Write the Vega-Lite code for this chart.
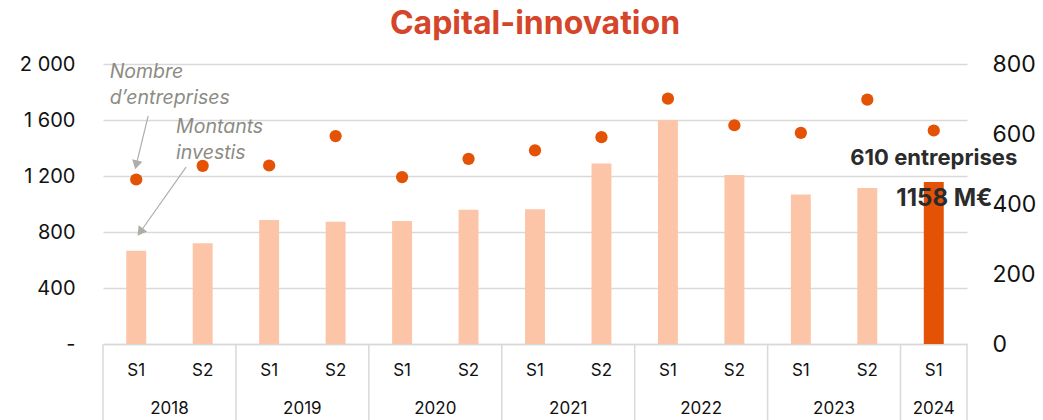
{
  "$schema": "https://vega.github.io/schema/vega-lite/v6.json",
  "autosize": {"type": "none"},
  "width": 864,
  "height": 280,
  "padding": {"left": 103, "top": 64, "right": 76, "bottom": 76},
  "config": {"view": {"stroke": null}, "font": "Inter"},
  "title": {"text": "Capital-innovation", "fontSize": 32, "font": "Inter", "fontWeight": "bold", "color": "#D4452A", "anchor": "middle", "offset": 12},
  "data": {"values": [
    {"period": "2018-S1", "year": "2018", "sem": "S1", "montant": 666, "nb": 470},
    {"period": "2018-S2", "year": "2018", "sem": "S2", "montant": 719, "nb": 509},
    {"period": "2019-S1", "year": "2019", "sem": "S1", "montant": 886, "nb": 510},
    {"period": "2019-S2", "year": "2019", "sem": "S2", "montant": 874, "nb": 594},
    {"period": "2020-S1", "year": "2020", "sem": "S1", "montant": 879, "nb": 477},
    {"period": "2020-S2", "year": "2020", "sem": "S2", "montant": 959, "nb": 529},
    {"period": "2021-S1", "year": "2021", "sem": "S1", "montant": 962, "nb": 553},
    {"period": "2021-S2", "year": "2021", "sem": "S2", "montant": 1290, "nb": 591},
    {"period": "2022-S1", "year": "2022", "sem": "S1", "montant": 1598, "nb": 701},
    {"period": "2022-S2", "year": "2022", "sem": "S2", "montant": 1207, "nb": 625},
    {"period": "2023-S1", "year": "2023", "sem": "S1", "montant": 1067, "nb": 603},
    {"period": "2023-S2", "year": "2023", "sem": "S2", "montant": 1114, "nb": 698},
    {"period": "2024-S1", "year": "2024", "sem": "S1", "montant": 1158, "nb": 610}
  ]},
  "layer": [
    {
      "layer": [
        {
          "mark": {"type": "bar", "width": {"band": 0.3}},
          "encoding": {
            "x": {"field": "period", "type": "nominal", "title": null,
              "scale": {"paddingInner": 0, "paddingOuter": 0},
              "axis": {"labelExpr": "split(datum.value, '-')[1]", "labelAngle": 0, "labelFontSize": 17, "labelColor": "#111", "labelPadding": 18, "ticks": false, "domain": true, "domainColor": "#d9d9d9", "domainWidth": 1.5, "grid": false}},
            "y": {"field": "montant", "type": "quantitative", "title": null,
              "scale": {"domain": [0, 2000], "nice": false},
              "axis": {"orient": "left", "values": [0, 400, 800, 1200, 1600, 2000], "labelExpr": "datum.value === 0 ? '-' : replace(format(datum.value, ','), ',', ' ')", "grid": true, "gridColor": "#d9d9d9", "gridWidth": 1.5, "domain": false, "ticks": false, "labelPadding": 28, "labelFontSize": 20, "labelColor": "#111"}},
            "color": {"condition": {"test": "datum.period === '2024-S1'", "value": "#E35205"}, "value": "#FDC5A7"}
          }
        },
        {
          "transform": [{"filter": "datum.sem === 'S1'"}],
          "mark": {"type": "rule", "color": "#d9d9d9", "strokeWidth": 1.5},
          "encoding": {
            "x": {"field": "period", "type": "nominal", "bandPosition": 0, "title": null},
            "y": {"datum": 0},
            "y2": {"datum": -545}
          }
        },
        {
          "transform": [{"filter": "datum.period === '2024-S1'"}],
          "mark": {"type": "rule", "color": "#d9d9d9", "strokeWidth": 1.5},
          "encoding": {
            "x": {"field": "period", "type": "nominal", "bandPosition": 1, "title": null},
            "y": {"datum": 0},
            "y2": {"datum": -545}
          }
        },
        {
          "transform": [{"filter": "datum.sem === 'S1' && datum.year !== '2024'"}],
          "mark": {"type": "text", "fontSize": 17, "color": "#111", "baseline": "middle", "align": "center"},
          "encoding": {
            "x": {"field": "period", "type": "nominal", "bandPosition": 1, "title": null},
            "y": {"datum": -464},
            "text": {"field": "year"}
          }
        },
        {
          "transform": [{"filter": "datum.year === '2024'"}],
          "mark": {"type": "text", "fontSize": 17, "color": "#111", "baseline": "middle", "align": "center"},
          "encoding": {
            "x": {"field": "period", "type": "nominal", "bandPosition": 0.5, "title": null},
            "y": {"datum": -464},
            "text": {"field": "year"}
          }
        },
        {
          "data": {"values": [
            {"label": "Nombre", "period": "2018-S1", "v": 1943},
            {"label": "d’entreprises", "period": "2018-S1", "v": 1757},
            {"label": "Montants", "period": "2018-S2", "v": 1550},
            {"label": "investis", "period": "2018-S2", "v": 1364}
          ]},
          "mark": {"type": "text", "fontSize": 19.5, "fontStyle": "italic", "color": "#8c8c84", "align": "left", "baseline": "middle"},
          "encoding": {
            "x": {"field": "period", "type": "nominal", "bandPosition": 0.1, "title": null},
            "y": {"field": "v", "type": "quantitative", "title": null},
            "text": {"field": "label"}
          }
        },
        {
          "data": {"values": [{}]},
          "mark": {"type": "rule", "color": "#aeaea8", "strokeWidth": 1.2},
          "encoding": {
            "x": {"datum": "2018-S1", "bandPosition": 0.68},
            "x2": {"datum": "2018-S1", "bandPosition": 0.5},
            "y": {"datum": 1629},
            "y2": {"datum": 1279}
          }
        },
        {
          "data": {"values": [{}]},
          "mark": {"type": "rule", "color": "#aeaea8", "strokeWidth": 1.2},
          "encoding": {
            "x": {"datum": "2018-S2", "bandPosition": 0.25},
            "x2": {"datum": "2018-S1", "bandPosition": 0.56},
            "y": {"datum": 1264},
            "y2": {"datum": 800}
          }
        },
        {
          "data": {"values": [{}]},
          "mark": {"type": "point", "shape": "triangle-down", "filled": true, "color": "#aeaea8", "opacity": 1, "size": 110, "angle": 13},
          "encoding": {
            "x": {"datum": "2018-S1", "bandPosition": 0.5},
            "y": {"datum": 1279}
          }
        },
        {
          "data": {"values": [{}]},
          "mark": {"type": "point", "shape": "triangle-down", "filled": true, "color": "#aeaea8", "opacity": 1, "size": 110, "angle": 36},
          "encoding": {
            "x": {"datum": "2018-S1", "bandPosition": 0.56},
            "y": {"datum": 800}
          }
        },
        {
          "data": {"values": [{}]},
          "mark": {"type": "text", "text": "610 entreprises", "fontSize": 22, "fontWeight": "bold", "color": "#2b2b2b", "align": "center", "baseline": "middle"},
          "encoding": {
            "x": {"datum": "2024-S1", "bandPosition": 0.5},
            "y": {"datum": 1326}
          }
        },
        {
          "data": {"values": [{}]},
          "mark": {"type": "text", "text": "1158 M€", "fontSize": 24, "fontWeight": "bold", "color": "#2b2b2b", "align": "center", "baseline": "middle"},
          "encoding": {
            "x": {"datum": "2024-S1", "bandPosition": 0.66},
            "y": {"datum": 1034}
          }
        }
      ]
    },
    {
      "mark": {"type": "circle", "size": 150, "color": "#E35205", "opacity": 1},
      "encoding": {
        "x": {"field": "period", "type": "nominal", "title": null},
        "y": {"field": "nb", "type": "quantitative", "title": null,
          "scale": {"domain": [0, 800], "nice": false},
          "axis": {"orient": "right", "values": [0, 200, 400, 600, 800], "grid": false, "domain": false, "ticks": false, "labelPadding": 25, "labelFontSize": 23, "labelColor": "#111"}}
      }
    }
  ],
  "resolve": {"scale": {"y": "independent"}}
}
